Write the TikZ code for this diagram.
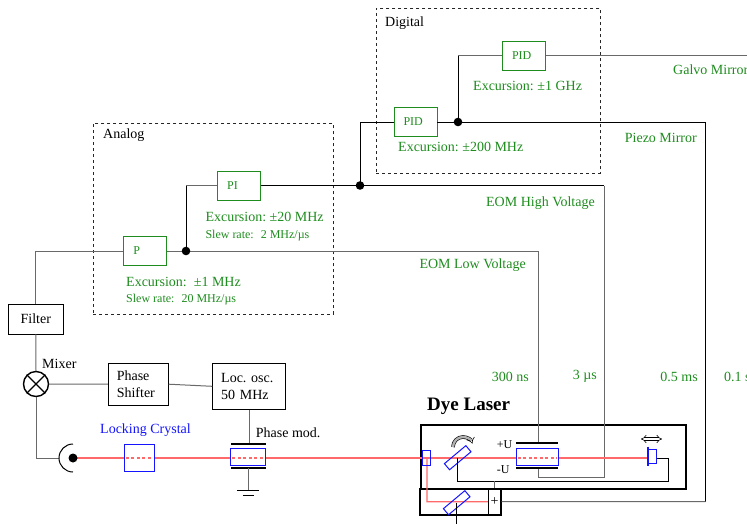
\documentclass[tikz,border=0pt]{standalone}
\usepackage{fontspec}
\setmainfont{Liberation Serif}
\usetikzlibrary{arrows.meta}
\definecolor{grn}{RGB}{30,140,30}
\definecolor{blu}{RGB}{20,20,255}
\definecolor{lsr}{RGB}{255,105,105}
\definecolor{wgray}{RGB}{105,105,105}
\begin{document}
\begin{tikzpicture}[x=1pt,y=-1pt,
 mainf/.style={font=\fontsize{14}{16.5}\selectfont\frenchspacing},
 smallf/.style={font=\fontsize{12}{14}\selectfont},
 ctrl/.style={draw=grn, text=grn, line width=0.9pt, minimum height=29pt, text width=24pt, inner xsep=9.5pt, inner ysep=0pt, align=left, smallf},
 blk/.style={draw=black, line width=0.9pt, mainf, inner ysep=0pt},
 glabel/.style={text=grn, mainf, inner sep=0pt},
 gsmall/.style={text=grn, smallf, inner sep=0pt},
 klabel/.style={text=black, mainf, inner sep=0pt},
 region/.style={draw=black!85, dashed, line width=0.8pt, inner sep=0pt},
 wk/.style={draw=black, line width=1pt},
 wg/.style={draw=wgray, line width=1pt},
 optic/.style={draw=blu, line width=1pt, inner sep=0pt},
 laserbeam/.style={draw=lsr, line width=1.2pt},
 beamdash/.style={draw=lsr, line width=1.2pt, dash pattern=on 3pt off 2.5pt},
 plate/.style={draw=black, line width=2pt},
 dblarrow/.style={draw=black, double=gray!60, double distance=2.4pt, line width=0.6pt},
]
\useasboundingbox (0,0) rectangle (747,523);

% regions
\node[region, minimum width=224pt, minimum height=165pt, anchor=north west] (digital) at (376,8) {};
\node[region, minimum width=240pt, minimum height=191pt, anchor=north west] (analog) at (93,123) {};
\node[klabel, anchor=west] (digitallbl) at (385,23) {Digital};
\node[klabel, anchor=west] (analoglbl) at (103,135) {Analog};

% controllers
\node[ctrl] (pidT) at (524,55.5) {PID};
\node[ctrl] (pidL) at (415.5,122) {PID};
\node[ctrl] (pi) at (239.2,185.5) {PI};
\node[ctrl] (p) at (145.3,251) {P};

% blocks
\node[blk, minimum width=55pt, minimum height=30pt, inner xsep=0pt] (filter) at (35.8,319) {Filter};
\node[circle, draw, line width=1.4pt, minimum size=25pt, inner sep=0pt] (mix) at (36,384) {};
\draw[line width=1.4pt] (mix.45) -- (mix.225) (mix.135) -- (mix.315);
\node[blk, text width=43pt, inner xsep=8.5pt, align=left, minimum height=41.7pt] (ps) at (138.3,384.2) {Phase\\Shifter};
\node[blk, text width=56pt, inner xsep=8.5pt, align=left, minimum height=46pt] (lo) at (249.2,386.3) {Loc. osc.\\50 MHz};

% dye laser boxes
\node[draw, line width=2pt, minimum width=265pt, minimum height=64pt, inner sep=0pt] (laser) at (553.2,457) {};
\node[draw, line width=1.1pt, minimum width=68.3pt, minimum height=26.7pt, inner sep=0pt] (lowbox) at (454.15,501.65) {};
\node[draw, line width=1.1pt, minimum width=12.7pt, minimum height=26.7pt, inner sep=0pt, mainf] (plus) at (494.65,501.65) {+};

% coordinates
\coordinate (jD) at (458,122);
\coordinate (jA2) at (360,185.5);
\coordinate (jA1) at (186,251);
\coordinate (pzC) at (705.5,122);
\coordinate (pzB) at (705.5,501.7);
\coordinate (gal) at (770,55.5);
\coordinate (hvC) at (604,185.5);
\coordinate (hvB) at (604,477.7);
\coordinate (hvL) at (538.3,477.7);
\coordinate (lvC) at (538.3,251);
\coordinate (eomtop) at (538.3,443);
\coordinate (eombot) at (538.3,467.7);
\coordinate (pdarc) at (59,458);
\coordinate (pmtop) at (248.3,444);
\coordinate (pdc) at (73,458);
\coordinate (emw) at (648,458);

% wires digital
\draw[wk] (jA2) |- (pidL.west);
\draw[wk] (pidL.east) -- (pzC) -- (pzB);
\draw[wg] (pzB) -- (plus.east);
\draw[wk] (jD) -- (jD |- pidT.west);
\draw[wg] (jD |- pidT.west) -- (pidT.west);
\draw[wg] (pidT.east) -- (gal);
% wires analog
\draw[wg] (filter.north) |- (p.west);
\draw[wg] (p.east) -- (lvC) -- (eomtop);
\draw[wk] (jA1) -- (jA1 |- pi.west);
\draw[wg] (jA1 |- pi.west) -- (pi.west);
\draw[wk] (pi.east) -- (hvC);
\draw[wg] (hvC) -- (hvB) -- (hvL) -- (eombot);
\fill (jD) circle[radius=4.3pt];
\fill (jA2) circle[radius=4.3pt];
\fill (jA1) circle[radius=4.3pt];
% lower left wires
\draw[wg] (filter.south) -- (mix.north);
\draw[wg] (mix.east) -- (ps.west);
\draw[wg] (ps.east) -- (lo.west);
\draw[wg] (mix.south) |- (pdarc);
\draw[wg] (lo.south) -- (lo.south |- pmtop);

% laser beam
\draw[laserbeam] (pdc) -- (emw);
\draw[laserbeam] (427,458) -- (427,501.7) -- (plus.west);

% photodiode
\fill (pdc) circle[radius=4.5pt];
\draw[line width=1pt] (73,444) arc[start angle=90, end angle=270, radius=14pt];

% locking crystal
\node[optic, fill=white, minimum width=30pt, minimum height=27pt] (lc) at (139.3,458.3) {};
\draw[beamdash] ([xshift=2pt]lc.west |- pdc) -- ([xshift=-2pt]lc.east |- pdc);

% phase modulator
\node[optic, fill=white, minimum width=34.7pt, minimum height=17pt] (pm) at (248.3,457.2) {};
\draw[beamdash] ([xshift=2pt]pm.west |- pdc) -- ([xshift=-2pt]pm.east |- pdc);
\draw[plate] (231,444) -- (265.7,444);
\draw[plate] (231,468.3) -- (265.7,468.3);
\draw[wg] (248.3,468.3) -- (248.3,490);
\draw[line width=1pt] (237.3,490) -- (259.3,490);
\draw[line width=1pt] (242.8,495.5) -- (253.8,495.5);

% dye laser internals
\node[optic, minimum width=8.3pt, minimum height=15pt] (inr) at (426.2,457.5) {};
\node[optic, minimum width=28pt, minimum height=8pt, rotate=40] (tm) at (457.7,457.7) {};
\node[optic, minimum width=28pt, minimum height=8pt, rotate=40] (bm) at (456.7,502.7) {};
\node[optic, fill=white, minimum width=42.3pt, minimum height=16.7pt] (eom) at (537.2,456.7) {};
\draw[beamdash] ([xshift=2pt]eom.west |- pdc) -- ([xshift=-2pt]eom.east |- pdc);
\draw[plate] (516,443) -- (558.3,443);
\draw[plate] (516,467.7) -- (558.3,467.7);
\node[optic, fill=white, minimum width=8pt, minimum height=14pt] (em) at (652,456.3) {};
\draw[blu, line width=1.2pt] (648,446.7) -- (648,466);
\draw[wk] (tm.center) -- (457.7,481) -- (668.3,481) -- (668.3,458) -- (em.east |- pdc);
\draw[wk] (bm.center) -- (456.7,530);
\draw[wg] (plus.north) -- (plus.north |- 0,481);
\draw[dblarrow, -{Implies}] (453,447) arc[start angle=180, end angle=20, radius=10pt];
\draw[draw=black, double=white, double distance=2.2pt, line width=0.6pt, {Implies}-{Implies}] (641,439) -- (662,439);

% labels
\node[glabel, anchor=west] (l1) at (473,86) {Excursion: ±1 GHz};
\node[glabel, anchor=west] (l2) at (398,147) {Excursion: ±200 MHz};
\node[glabel, anchor=west] (l3) at (673,70) {Galvo Mirror};
\node[glabel, anchor=east] (l4) at (697,137.5) {Piezo Mirror};
\node[glabel, anchor=west] (l5) at (205.3,216.7) {Excursion: ±20 MHz};
\node[gsmall, anchor=west] (l6) at (205.3,235.7) {Slew rate:~ 2 MHz/µs};
\node[glabel, anchor=west] (l7) at (126,281.7) {Excursion:~ ±1 MHz};
\node[gsmall, anchor=west] (l8) at (126,299.3) {Slew rate:~ 20 MHz/µs};
\node[glabel, anchor=east] (l9) at (595,203) {EOM High Voltage};
\node[glabel, anchor=east] (l10) at (526,265.5) {EOM Low Voltage};
\node[glabel, anchor=east] (l11) at (529,376.7) {300 ns};
\node[glabel, anchor=east] (l12) at (597,376.7) {3 µs};
\node[glabel, anchor=east] (l13) at (698,376.7) {0.5 ms};
\node[glabel, anchor=west] (l14) at (724,376.7) {0.1 s};
\node[klabel, anchor=west] (mixlbl) at (42,364) {Mixer};
\node[klabel, anchor=west] (pmlbl) at (255.7,433) {Phase mod.};
\node[text=blu, mainf, inner sep=0pt, anchor=west] (lclbl) at (100,430) {Locking Crystal};
\node[font=\fontsize{19}{22}\selectfont\bfseries, inner sep=0pt, anchor=west] (dyelbl) at (427,406) {Dye Laser};
\node[smallf, inner sep=0pt, anchor=west] (pu) at (496.7,445) {+U};
\node[smallf, inner sep=0pt, anchor=west] (mu) at (496.7,470) {-U};
\end{tikzpicture}
\end{document}
